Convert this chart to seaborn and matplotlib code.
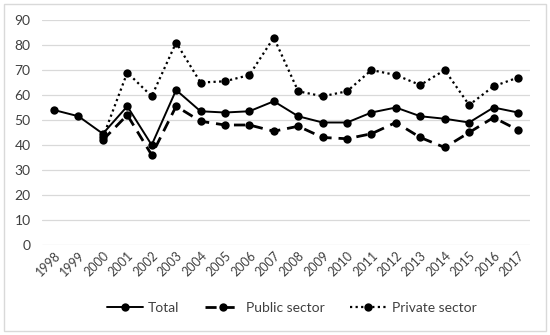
import matplotlib
matplotlib.use("Agg")
import matplotlib.pyplot as plt
import seaborn as sns
import pandas as pd
import numpy as np

years = [str(y) for y in range(1998, 2018)]
total = [54, 51.5, 44.5, 55.5, 40, 62, 53.5, 53, 53.5, 57.5, 51.5, 49, 49, 53, 55, 51.5, 50.5, 49, 55, 53]
public = [np.nan, np.nan, 42, 52, 36, 55.5, 49.5, 48, 48, 45.5, 47.5, 43, 42.5, 44.5, 49, 43, 39, 45, 51, 46]
private = [np.nan, np.nan, 43, 69, 59.5, 81, 65, 65.5, 68, 83, 61.5, 59.5, 61.5, 70, 68, 64, 70, 56, 63.5, 67]
series_names = ["Total", "Public sector", "Private sector"]

rows = []
for name, vals in zip(series_names, [total, public, private]):
    for i, (y, v) in enumerate(zip(years, vals)):
        rows.append({"idx": i, "year": y, "value": v, "series": name})
df = pd.DataFrame(rows)

sns.set_theme(style="white")
plt.rcParams['font.family'] = ['Lato', 'DejaVu Sans']

fig = plt.figure(figsize=(5.5, 3.35), dpi=100)
ax = fig.add_axes([0.076, 0.269, 0.888, 0.671])

dashes = {"Total": "", "Public sector": (4, 2.5), "Private sector": (1, 1.5)}
sns.lineplot(data=df.dropna(), x="idx", y="value", hue="series", style="series",
             hue_order=series_names, style_order=series_names,
             palette=["black"] * 3, dashes=dashes, markers={n: "o" for n in series_names},
             markersize=6, markeredgewidth=0, linewidth=1.4, ax=ax, legend=False)
# thicker dash line
for line, name in zip(ax.lines, series_names):
    if name == "Public sector":
        line.set_linewidth(2.0)
    if name == "Private sector":
        line.set_linewidth(1.6)

ax.set_xlim(-0.5, len(years) - 0.5)
ax.set_ylim(0, 90)
ax.set_yticks(range(0, 91, 10))
ax.set_xticks(range(len(years)))
ax.set_xticklabels(years, rotation=45, ha="right", rotation_mode="anchor", fontsize=9, color="#404040")
ax.tick_params(axis="y", labelsize=10, labelcolor="#404040", length=0, pad=8)
ax.tick_params(axis="x", length=0, pad=3)
ax.grid(axis="y", color="#d9d9d9", linewidth=0.9)
ax.set_axisbelow(True)
for s in ax.spines.values():
    s.set_visible(False)
ax.set_xlabel("")
ax.set_ylabel("")

handles = ax.lines[:3]
leg = fig.legend(handles, series_names, loc="center", bbox_to_anchor=(0.53, 0.08), ncol=3,
                 frameon=False, fontsize=10, handlelength=2.6, columnspacing=1.8, handletextpad=0.4)
for t in leg.get_texts():
    t.set_color("#404040")

border = plt.Rectangle((0.007, 0.012), 0.986, 0.976, transform=fig.transFigure,
                       fill=False, edgecolor="#d9d9d9", linewidth=1)
fig.patches.append(border)

fig.savefig("out.png", dpi=100)
